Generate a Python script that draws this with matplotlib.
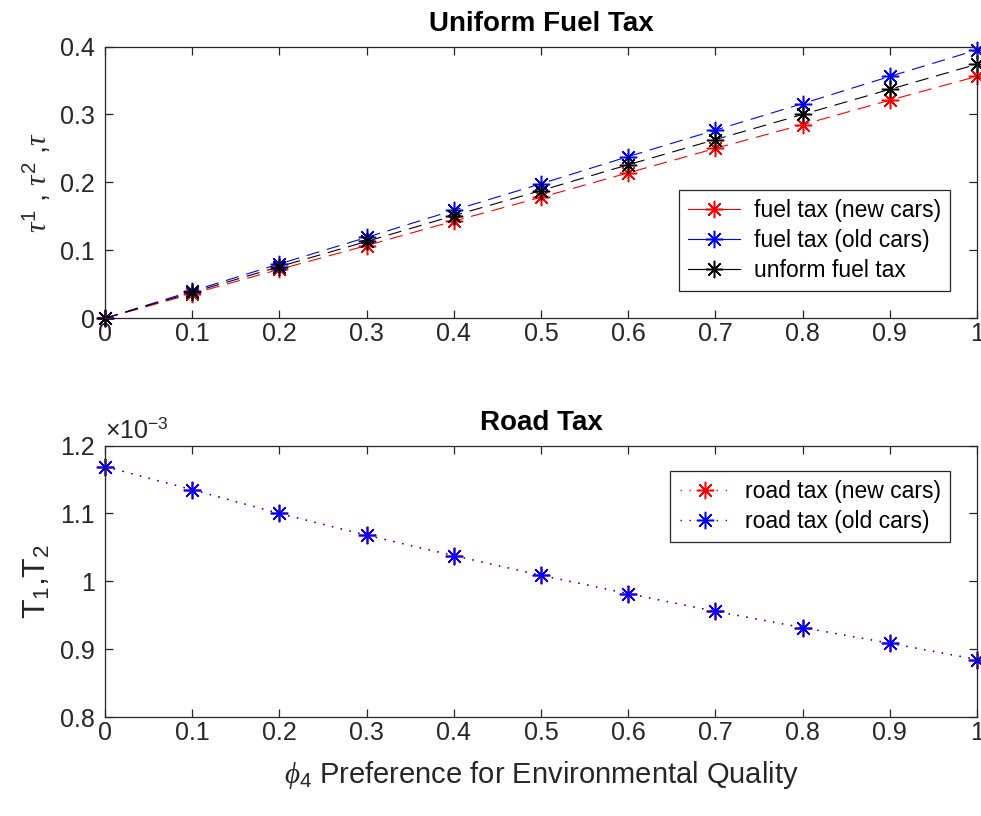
#======================================================================
#   IMPORTS:
#======================================================================

from matplotlib import pyplot as plt        # for plots
from matplotlib.ticker import FuncFormatter


#======================================================================
#   GLOBALS:
#======================================================================

ls_phi = [0, 0.1, 0.2, 0.3, 0.4, 0.5, 0.6, 0.7, 0.8, 0.9, 1.0]

# fuel taxes
ls_tax_new = [0, 0.036, 0.072, 0.107, 0.143, 0.178, 0.214, 0.250, 0.285, 0.321, 0.356]
ls_tax_old = [0, 0.040, 0.080, 0.119, 0.159, 0.198, 0.238, 0.277, 0.316, 0.356, 0.395]
ls_tax_uni = [0, 0.038, 0.076, 0.113, 0.151, 0.188, 0.226, 0.263, 0.300, 0.337, 0.374]

# road taxes, both series lie on top of each other
ls_road_new = [1.169e-3, 1.135e-3, 1.100e-3, 1.068e-3, 1.038e-3, 1.009e-3,
               0.982e-3, 0.956e-3, 0.932e-3, 0.909e-3, 0.885e-3]
ls_road_old = [1.169e-3, 1.135e-3, 1.100e-3, 1.068e-3, 1.038e-3, 1.009e-3,
               0.982e-3, 0.956e-3, 0.932e-3, 0.909e-3, 0.885e-3]

ls_xticks = [0, 0.1, 0.2, 0.3, 0.4, 0.5, 0.6, 0.7, 0.8, 0.9, 1.0]
ls_yticks_top = [0, 0.1, 0.2, 0.3, 0.4]
ls_yticks_bot = [0.8e-3, 0.9e-3, 1.0e-3, 1.1e-3, 1.2e-3]

C_AX = '#262626'
STAR = (8, 2, 0)        # matlab-like asterisk

FS_TICK = 18
FS_LEG = 16.5
FS_TITLE = 20
FS_LAB = 21


#======================================================================
#   FUNCTIONS:
#======================================================================

def style_axes(ax):
    '''matlab look: box on, ticks inside on all sides'''
    for sp in ax.spines.values():
        sp.set_color(C_AX)
        sp.set_linewidth(0.9)
    ax.tick_params(direction='in', length=6, width=0.9, color=C_AX,
                   labelcolor=C_AX, labelsize=FS_TICK, top=True, right=True)
    ax.tick_params(axis='y', pad=7)
    ax.tick_params(axis='x', pad=3)
    ax.set_xlim(0, 1)
    ax.set_xticks(ls_xticks)
    ax.xaxis.set_major_formatter(FuncFormatter(lambda v, p: '%g' % v))


def add_legend(ax, loc, anchor):
    leg = ax.legend(loc=loc, bbox_to_anchor=anchor, borderaxespad=0,
                    fontsize=FS_LEG, fancybox=False, framealpha=1, edgecolor=C_AX,
                    handlelength=2.25, handletextpad=0.6, borderpad=0.4,
                    labelspacing=0.3)
    leg.get_frame().set_linewidth(0.9)
    return leg


#======================================================================
#   MAIN:
#======================================================================

if (__name__ == '__main__'):

    plt.rcParams['font.family'] = ['Liberation Sans', 'DejaVu Sans']
    plt.rcParams['mathtext.fontset'] = 'custom'
    plt.rcParams['mathtext.rm'] = 'Liberation Sans'
    plt.rcParams['mathtext.it'] = 'Liberation Serif:italic'

    fig = plt.figure(figsize=(9.81, 8.16), dpi=100)
    ax1 = fig.add_axes([0.107, 0.610, 0.889, 0.333])
    ax2 = fig.add_axes([0.107, 0.121, 0.889, 0.333])

    # ---- top: fuel taxes ----
    kw = dict(marker=STAR, markersize=12.5, markeredgewidth=1.1, linewidth=0.8,
              dashes=(12, 7), clip_on=False)
    ax1.plot(ls_phi, ls_tax_new, color='red', label='fuel tax (new cars)', **kw)
    ax1.plot(ls_phi, ls_tax_old, color='blue', label='fuel tax (old cars)', **kw)
    ax1.plot(ls_phi, ls_tax_uni, color='black', label='unform fuel tax', **kw)

    style_axes(ax1)
    ax1.set_ylim(0, 0.4)
    ax1.set_yticks(ls_yticks_top)
    ax1.yaxis.set_major_formatter(FuncFormatter(lambda v, p: '%g' % v))
    ax1.set_title('Uniform Fuel Tax', fontsize=FS_TITLE, fontweight='bold', pad=11)
    ax1.set_ylabel(r'$\tau^1$ , $\tau^2$ ,$\tau$', fontsize=FS_LAB, color=C_AX, labelpad=5)

    leg1 = add_legend(ax1, 'lower right', (0.969, 0.099))
    for ln in leg1.get_lines():
        ln.set_linestyle('-')

    # ---- bottom: road taxes ----
    kw = dict(marker=STAR, markersize=12.5, markeredgewidth=1.1, linewidth=1.0,
              dashes=(1, 5.5), clip_on=False)
    ax2.plot(ls_phi, ls_road_new, color='red', label='road tax (new cars)', **kw)
    ax2.plot(ls_phi, ls_road_old, color='blue', label='road tax (old cars)', **kw)

    style_axes(ax2)
    ax2.set_ylim(0.8e-3, 1.2e-3)
    ax2.set_yticks(ls_yticks_bot)
    ax2.yaxis.set_major_formatter(FuncFormatter(lambda v, p: '%g' % round(v * 1e3, 6)))
    ax2.text(0.0, 1.008, r'$\times10^{-3}$', transform=ax2.transAxes,
             fontsize=FS_TICK, color=C_AX, ha='left', va='bottom')
    ax2.set_title('Road Tax', fontsize=FS_TITLE, fontweight='bold', pad=11)
    ax2.set_ylabel(r'T$_1$,T$_2$', fontsize=23, color=C_AX, labelpad=6)
    ax2.set_xlabel(r'$\phi_4$ Preference for Environmental Quality',
                   fontsize=FS_LAB, color=C_AX, labelpad=10)

    add_legend(ax2, 'upper right', (0.969, 0.908))

    fig.savefig('out.png', dpi=100)


#======================================================================
#   END OF FILE
#======================================================================
